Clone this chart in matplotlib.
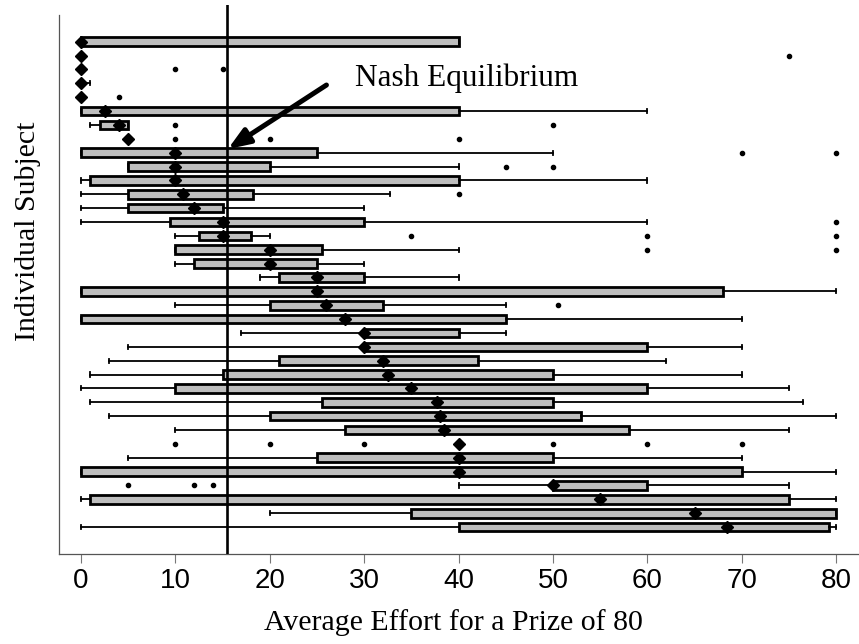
import matplotlib
matplotlib.use("Agg")
import matplotlib.pyplot as plt
import numpy as np

# one row per subject, top to bottom
q1 = [0, 0, 0, 0, 0, 0, 2, 5, 0, 5, 1, 5, 5, 9.4, 12.5, 10, 12, 21, 0, 20,
      0, 30, 30, 21, 15, 10, 25.5, 20, 28, 40, 25, 0, 50, 1, 35, 40]
med = [0, 0, 0, 0, 0, 2.5, 4, 5, 10, 10, 10, 10.8, 12, 15, 15, 20, 20, 25, 25, 26,
       28, 30, 30, 32, 32.5, 35, 37.7, 38, 38.4, 40, 40, 40, 50, 55, 65, 68.4]
q3 = [40, 0, 0, 0, 0, 40, 5, 5, 25, 20, 40, 18.2, 15, 30, 18, 25.5, 25, 30, 68, 32,
      45, 40, 60, 42, 50, 60, 50, 53, 58, 40, 50, 70, 60, 75, 80, 79.2]
lo = [0, 0, 0, 0, 0, 0, 1, 5, 0, 5, 0, 0, 0, 0, 10, 10, 10, 19, 0, 10,
      0, 17, 5, 3, 1, 0, 1, 3, 10, 40, 5, 0, 40, 0, 20, 0]
hi = [40, 0, 0, 1, 0, 60, 5, 5, 50, 40, 60, 32.7, 30, 60, 20, 40, 30, 40, 80, 45,
      70, 45, 70, 62, 70, 75, 76.5, 80, 75, 40, 70, 80, 75, 80, 80, 80]
outliers = [[], [75], [10, 15], [], [4], [], [10, 50], [10, 20, 40], [70, 80], [45, 50],
            [], [40], [], [80], [35, 60, 80], [60, 80], [], [], [], [50.5],
            [], [], [], [], [], [], [], [], [], [10, 20, 30, 50, 60, 70],
            [], [], [5, 12, 14], [], [], []]
nash = 15.5
xticks = [0, 10, 20, 30, 40, 50, 60, 70, 80]

stats = []
for i in range(len(med)):
    stats.append(dict(med=med[i], q1=q1[i], q3=q3[i], whislo=lo[i], whishi=hi[i],
                      fliers=outliers[i]))
pos = np.arange(1, len(med) + 1)

fig = plt.figure(figsize=(8.59, 6.44), dpi=100)
ax = fig.add_axes([0.069, 0.1398, 0.9298, 0.8524])

ax.bxp(stats, positions=pos, orientation='horizontal', widths=0.62, capwidths=0.3,
       patch_artist=True,
       boxprops=dict(facecolor='#bebebe', edgecolor='black', linewidth=2.0),
       whiskerprops=dict(color='black', linewidth=1.3),
       capprops=dict(color='black', linewidth=1.3),
       medianprops=dict(color='black', linewidth=2.0),
       flierprops=dict(marker='o', markersize=3.0, markerfacecolor='black',
                       markeredgecolor='black'))
ax.plot(med, pos, 'D', color='black', markersize=5.8, zorder=5)

ax.axvline(nash, color='black', linewidth=1.9, zorder=6)

ax.text(29.0, 4.19, 'Nash Equilibrium', fontsize=22.5, family='Liberation Serif',
        ha='left', va='baseline')
ax.annotate('', xy=(15.56, 8.74), xytext=(26.0, 4.12),
            arrowprops=dict(arrowstyle='-|>,head_length=1.3,head_width=0.5',
                            color='black', linewidth=3.6, shrinkA=0, shrinkB=0),
            zorder=7)

ax.set_xlim(-2.3, 82.3)
ax.set_ylim(37.94, -1.65)
ax.set_xticks(xticks)
ax.set_yticks([])
ax.tick_params(axis='x', length=6.2, width=0.8, color='#777777', pad=3.8,
               labelsize=20)
for lab in ax.get_xticklabels():
    lab.set_family('Liberation Sans')

ax.spines['top'].set_visible(False)
ax.spines['right'].set_visible(False)
ax.spines['left'].set_color('#555555')
ax.spines['bottom'].set_color('#555555')
ax.spines['left'].set_linewidth(0.9)
ax.spines['bottom'].set_linewidth(0.9)
ax.spines['left'].set_bounds(37.94, -0.925)

fig.text(453 / 859, 14 / 644, 'Average Effort for a Prize of 80', fontsize=21.5,
         family='Liberation Serif', ha='center', va='baseline')
fig.text(35 / 859, 1 - 231 / 644, 'Individual Subject', fontsize=21.5,
         family='Liberation Serif', rotation=90, rotation_mode='anchor',
         ha='center', va='baseline')

fig.savefig('out.png', dpi=100)
